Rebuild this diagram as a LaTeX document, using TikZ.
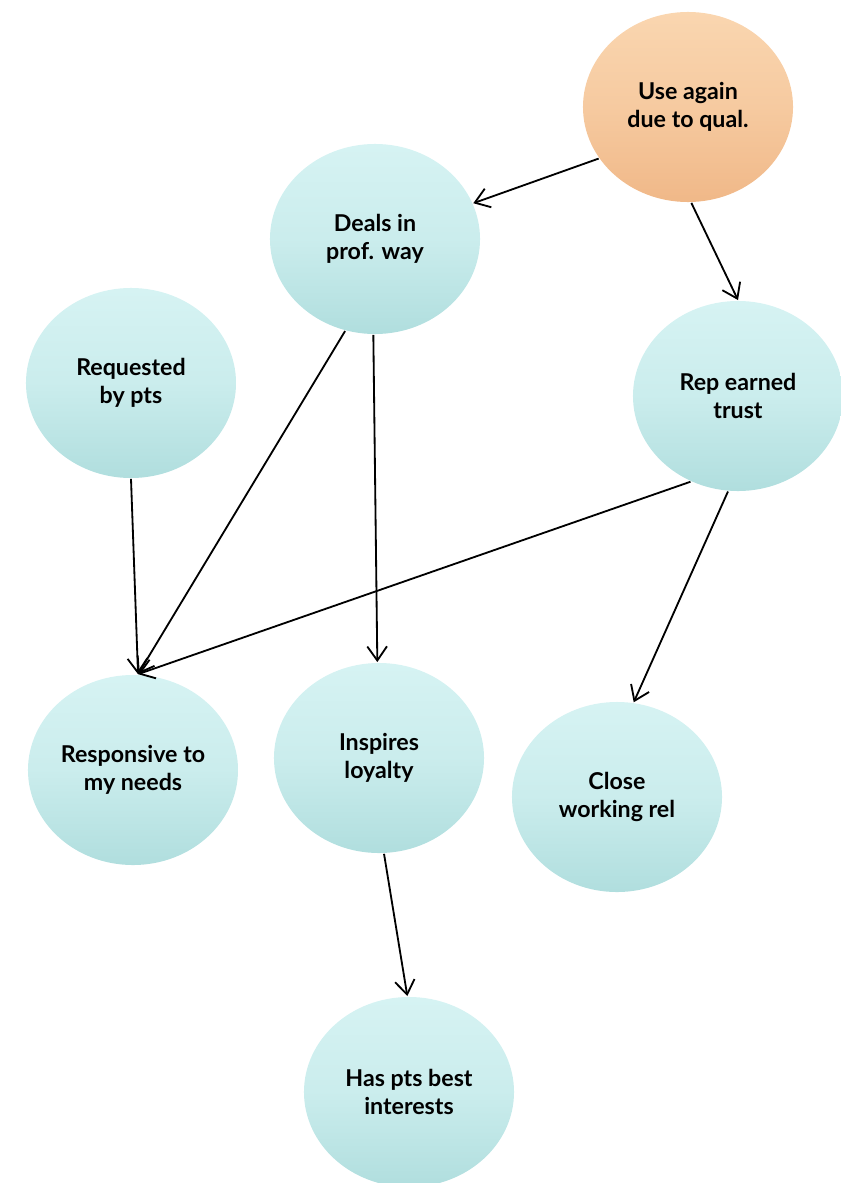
\documentclass[tikz,border=0pt]{standalone}
\usepackage{fontspec}
\setmainfont{Lato}
\usetikzlibrary{arrows.meta,shapes.geometric}

\definecolor{bubtop}{RGB}{214,243,243}
\definecolor{bubbot}{RGB}{176,222,222}
\definecolor{sunTop}{RGB}{250,214,176}
\definecolor{sunBot}{RGB}{240,184,136}

\tikzset{
  bubble/.style={ellipse, minimum width=5.25cm, minimum height=4.75cm, inner sep=0pt,
    top color=bubtop, bottom color=bubbot, middle color=bubtop!70!bubbot,
    align=center, font=\fontsize{16.5}{20}\selectfont\bfseries},
  source/.style={bubble, top color=sunTop, bottom color=sunBot, middle color=sunTop!60!sunBot}
}

\begin{document}
\begin{tikzpicture}[x=0.025cm,y=-0.025cm,->,>={Straight Barb[length=10pt,width=14pt]},
      line width=1.3pt]
  \clip (0,0) rectangle (841,1183);
			\node[source] (use)   at (688,107)  {Use again\\due to qual.};
			\node[bubble] (deals) at (375,239)  {Deals in\\prof. way};
			\node[bubble] (req)   at (131,383)  {Requested\\by pts};
			\node[bubble] (rep)   at (738,396)  {Rep earned\\trust};
			\node[bubble] (resp)  at (133,770)  {Responsive to\\my needs};
			\node[bubble] (insp)  at (379,758)  {Inspires\\loyalty};
			\node[bubble] (close) at (617,797)  {Close\\working rel};
			\node[bubble] (has)   at (409,1092) {Has pts best\\interests};
			\path
				(use.210)   edge (deals.20)
				(use.272)   edge (rep.90)
				(deals.252) edge (resp.87)
				(deals.269) edge (insp.91)
				(req.270)   edge (resp.87)
				(rep.241)   edge (resp.87)
				(rep.264)   edge (close.80)
				(insp.273)  edge (has.91);
		\end{tikzpicture}
\end{document}
